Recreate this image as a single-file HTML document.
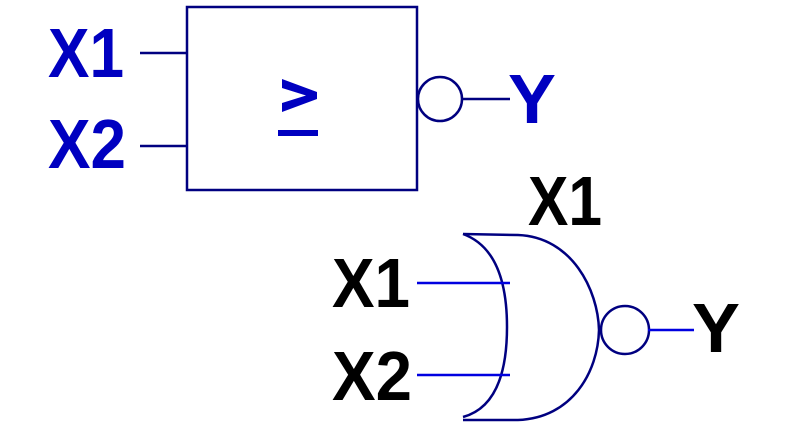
<!DOCTYPE html>
<html><head><meta charset="utf-8"><style>
html,body{margin:0;padding:0;background:#fff;}
svg{display:block;}
text{font-family:"Liberation Sans",Arial,sans-serif;font-weight:bold;}
</style></head><body>
<svg width="812" height="429" viewBox="0 0 812 429" xmlns="http://www.w3.org/2000/svg">
<g fill="none" stroke="#000080" stroke-width="2.5">
<rect x="187" y="7" width="230" height="183"/>
<line x1="140" y1="53" x2="187" y2="53"/>
<line x1="140" y1="146" x2="187" y2="146"/>
<circle cx="440" cy="99" r="22"/>
<line x1="462" y1="99" x2="510" y2="99"/>
</g>
<g fill="#0000c0">
<text x="48" y="77" font-size="70" textLength="76" lengthAdjust="spacingAndGlyphs">X1</text>
<text x="48" y="168" font-size="70" textLength="78" lengthAdjust="spacingAndGlyphs">X2</text>
<text x="508" y="123" font-size="70" textLength="48" lengthAdjust="spacingAndGlyphs">Y</text>
<polygon points="282,79 317,92 317,99 282,112 282,103 306,95.5 282,88"/>
<rect x="278" y="130" width="40" height="6"/>
</g>
<g fill="none" stroke="#000080" stroke-width="2.5">
<path d="M463,234 L518,235 C572,237 598,290 599,330 C598,372 572,418 518,420 L463,420"/>
<path d="M463,234 Q507,250 507,327 Q507,405 463,417"/>
<circle cx="625" cy="330" r="24"/>
</g>
<g stroke="#0000e0" stroke-width="2.5">
<line x1="417" y1="283" x2="510" y2="283"/>
<line x1="417" y1="375" x2="510" y2="375"/>
<line x1="648" y1="330" x2="694" y2="330"/>
</g>
<g fill="#000">
<text x="332" y="307" font-size="70" textLength="78" lengthAdjust="spacingAndGlyphs">X1</text>
<text x="332" y="400" font-size="70" textLength="80" lengthAdjust="spacingAndGlyphs">X2</text>
<text x="528" y="225" font-size="70" textLength="74" lengthAdjust="spacingAndGlyphs">X1</text>
<text x="692" y="352" font-size="70" textLength="48" lengthAdjust="spacingAndGlyphs">Y</text>
</g>
</svg>
</body></html>
